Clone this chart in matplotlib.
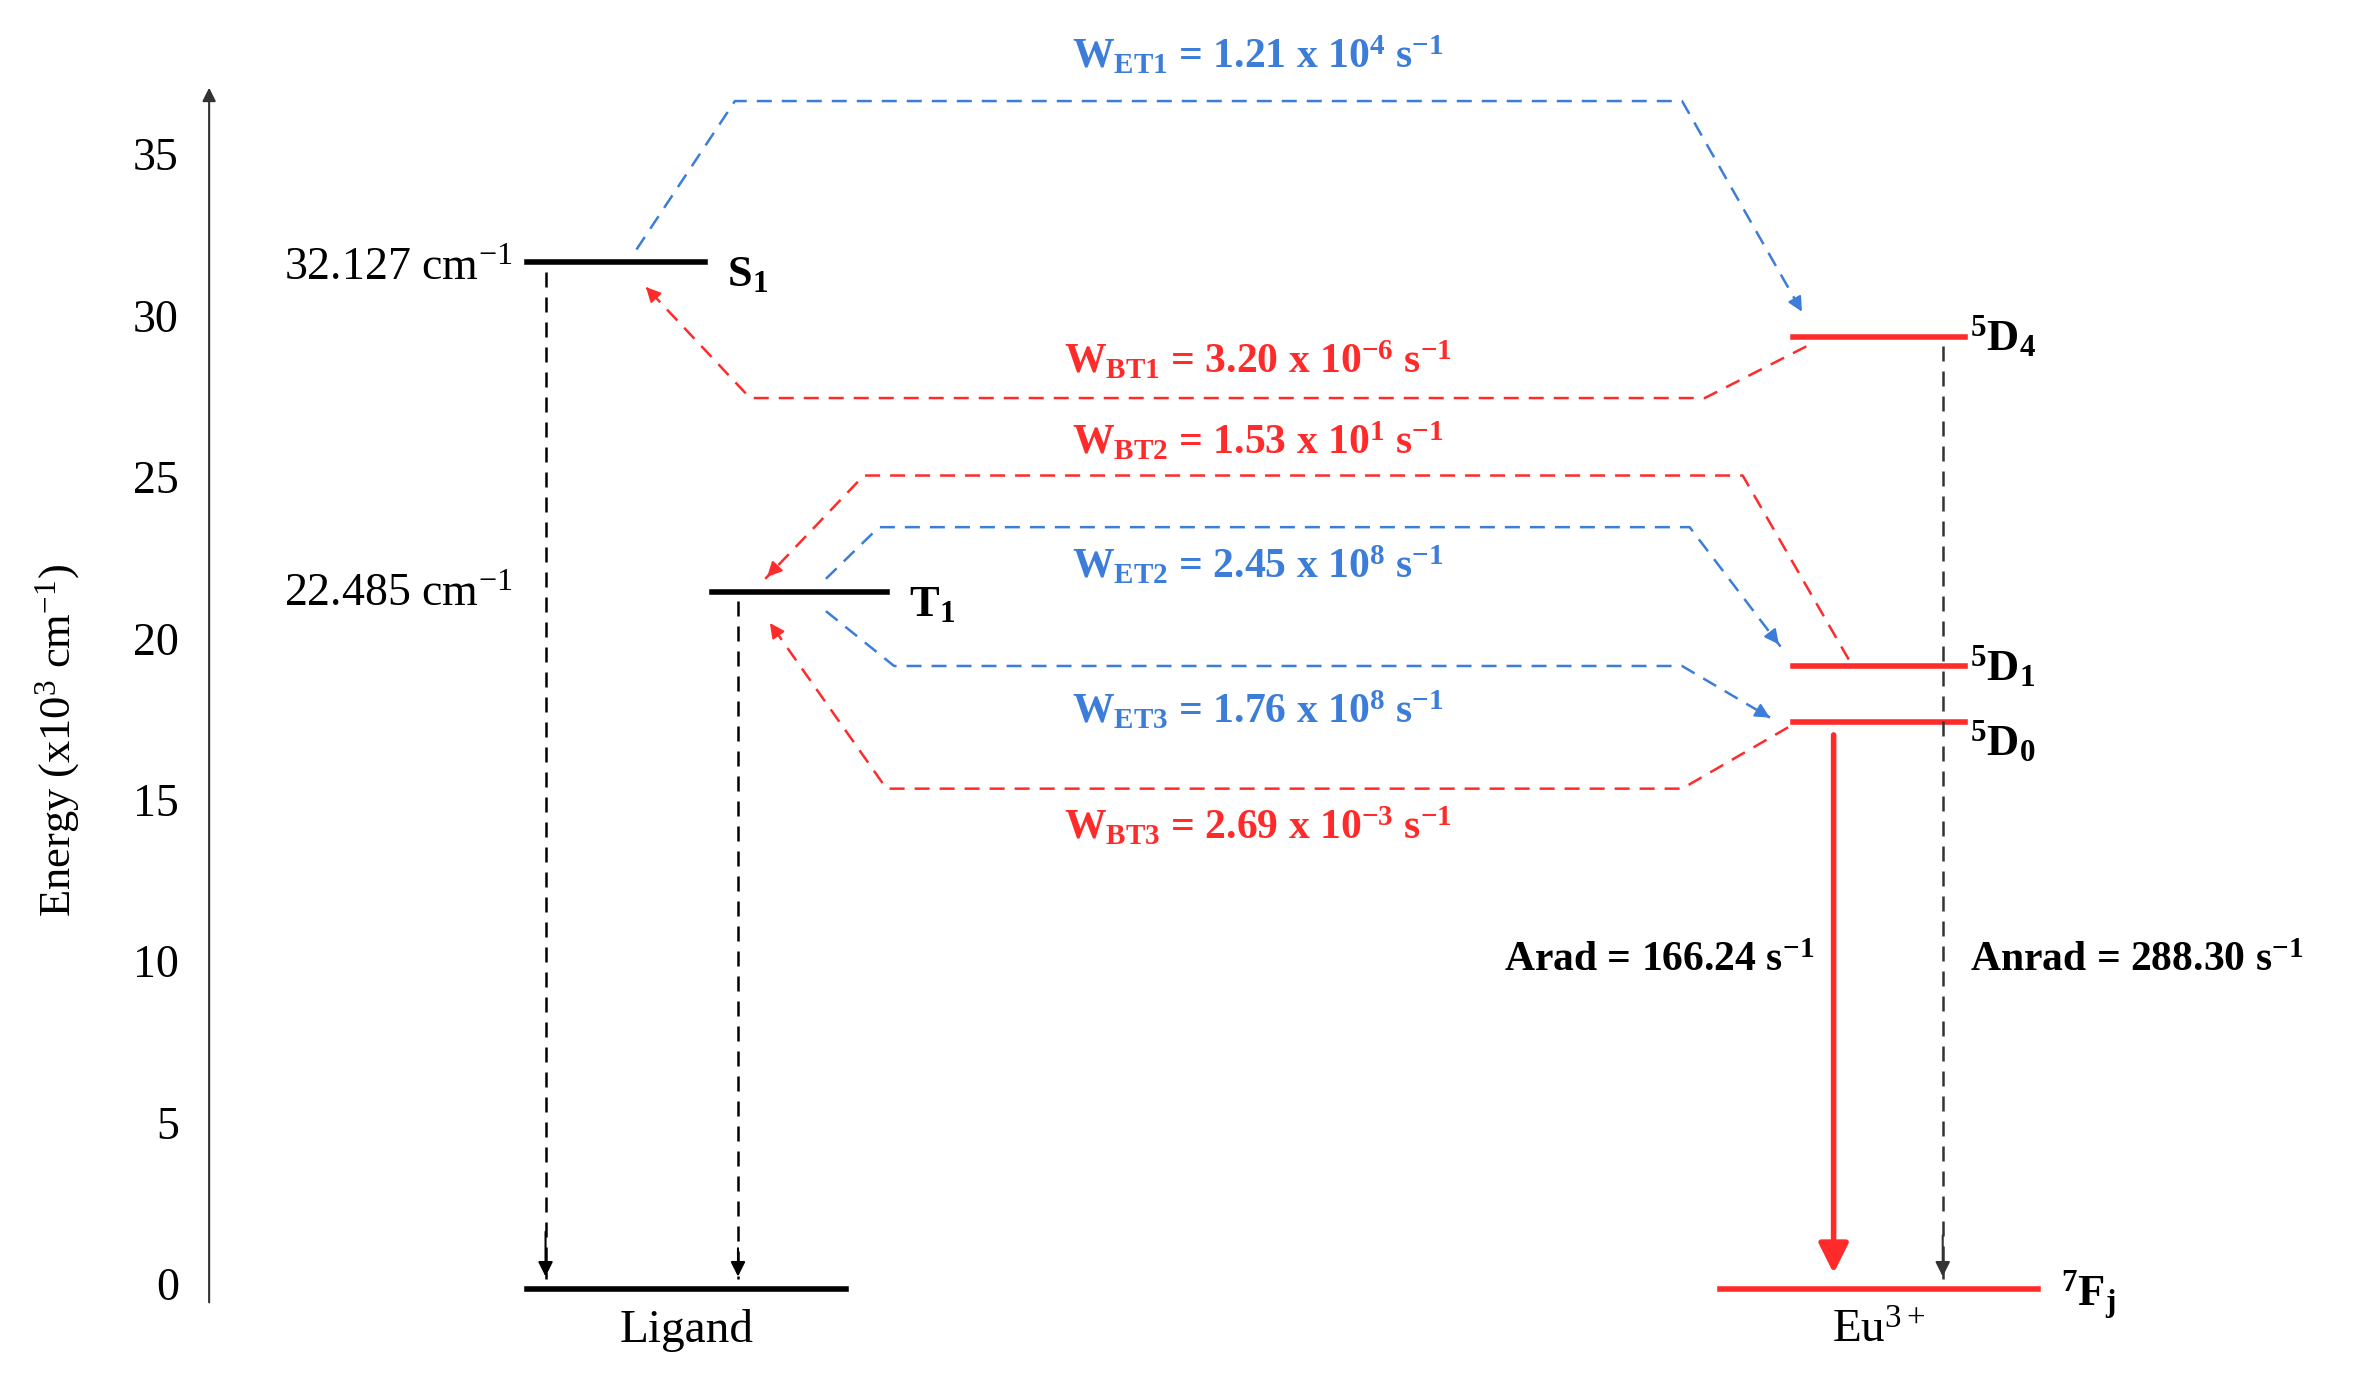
import matplotlib.pyplot as plt

plt.rcParams['font.family'] = ['Liberation Serif', 'DejaVu Serif']
plt.rcParams['mathtext.fontset'] = 'custom'
plt.rcParams['mathtext.rm'] = 'Liberation Serif'
plt.rcParams['mathtext.bf'] = 'Liberation Serif:bold'
plt.rcParams['mathtext.it'] = 'Liberation Serif:italic'

BLUE = '#3b7dd8'
RED = '#ff2a2a'

# energy levels (x10^3 cm^-1)
ligand_levels = {'S1': 31.8, 'T1': 21.6, 'G': 0.0}
eu_levels = {'5D4': 29.5, '5D1': 19.3, '5D0': 17.55, '7Fj': 0.0}
yticks = [0, 5, 10, 15, 20, 25, 30, 35]

# transfer paths: (x, energy) waypoints, horizontal x in layout units
et_paths = {
    'ET1': [(420, 32.2), (485, 36.8), (1110, 36.8), (1190, 30.2)],
    'ET2': [(545, 22.0), (580, 23.6), (1115, 23.6), (1175, 19.9)],
    'ET3': [(545, 21.0), (590, 19.3), (1110, 19.3), (1168, 17.7)],
}
bt_paths = {
    'BT1': [(1192, 29.2), (1125, 27.6), (495, 27.6), (425, 31.1)],
    'BT2': [(1220, 19.5), (1150, 25.2), (570, 25.2), (505, 22.0)],
    'BT3': [(1180, 17.4), (1110, 15.5), (585, 15.5), (507, 20.7)],
}
labels = [
    (r'W$_{\mathbf{ET1}}$ = 1.21 x 10$^{\mathbf{4}}$ s$^{\mathbf{-1}}$', 38.2, BLUE),
    (r'W$_{\mathbf{BT1}}$ = 3.20 x 10$^{\mathbf{-6}}$ s$^{\mathbf{-1}}$', 28.75, RED),
    (r'W$_{\mathbf{BT2}}$ = 1.53 x 10$^{\mathbf{1}}$ s$^{\mathbf{-1}}$', 26.25, RED),
    (r'W$_{\mathbf{ET2}}$ = 2.45 x 10$^{\mathbf{8}}$ s$^{\mathbf{-1}}$', 22.4, BLUE),
    (r'W$_{\mathbf{ET3}}$ = 1.76 x 10$^{\mathbf{8}}$ s$^{\mathbf{-1}}$', 17.9, BLUE),
    (r'W$_{\mathbf{BT3}}$ = 2.69 x 10$^{\mathbf{-3}}$ s$^{\mathbf{-1}}$', 14.3, RED),
]

fig = plt.figure(figsize=(23.64, 13.92), dpi=100)
ax = fig.add_axes([0, 0, 1, 1])
ax.set_xlim(0, 1560)
ax.set_ylim(-3.19, 39.93)
ax.axis('off')

# axis
ax.annotate('', xy=(138, 37.3), xytext=(138, -0.5),
            arrowprops=dict(arrowstyle='-|>', color='#333333', lw=1.5, mutation_scale=20))
for t in yticks:
    ax.text(118, t, str(t), ha='right', va='center', fontsize=33)
ax.text(38, 17, r'Energy (x10$^3$ cm$^{-1}$)', rotation=90, ha='center', va='center', fontsize=32)

# levels
ax.plot([348, 465], [ligand_levels['S1']] * 2, color='black', lw=4)
ax.plot([470, 585], [ligand_levels['T1']] * 2, color='black', lw=4)
ax.plot([348, 558], [ligand_levels['G']] * 2, color='black', lw=4)
for k in ['5D4', '5D1', '5D0']:
    ax.plot([1183, 1297], [eu_levels[k]] * 2, color=RED, lw=4)
ax.plot([1135, 1345], [eu_levels['7Fj']] * 2, color=RED, lw=4)

# level labels
lt = dict(fontsize=32, fontweight='bold', va='center')
ax.text(480, ligand_levels['S1'] - 0.4, r'S$_{\mathbf{1}}$', **lt)
ax.text(600, ligand_levels['T1'] - 0.4, r'T$_{\mathbf{1}}$', **lt)
ax.text(1300, eu_levels['5D4'], r'$^{\mathbf{5}}$D$_{\mathbf{4}}$', **lt)
ax.text(1300, eu_levels['5D1'], r'$^{\mathbf{5}}$D$_{\mathbf{1}}$', **lt)
ax.text(1300, eu_levels['5D0'] - 0.6, r'$^{\mathbf{5}}$D$_{\mathbf{0}}$', **lt)
ax.text(1360, -0.2, r'$^{\mathbf{7}}$F$_{\mathbf{j}}$', **lt)
ax.text(338, ligand_levels['S1'] - 0.2, r'32.127 cm$^{-1}$', ha='right', va='center', fontsize=33)
ax.text(338, ligand_levels['T1'] - 0.1, r'22.485 cm$^{-1}$', ha='right', va='center', fontsize=33)
ax.text(453, -1.3, 'Ligand', ha='center', va='center', fontsize=34)
ax.text(1240, -1.3, r'Eu$^{3+}$', ha='center', va='center', fontsize=34)


def dashed_arrow(pts, color):
    xs, ys = zip(*pts)
    ax.plot(xs, ys, '--', color=color, lw=1.8, dashes=(6, 4))
    (x0, y0), (x1, y1) = pts[-2], pts[-1]
    ax.annotate('', xy=(x1, y1), xytext=(x1 - (x1 - x0) * 0.05, y1 - (y1 - y0) * 0.05),
                arrowprops=dict(arrowstyle='-|>', color=color, lw=1.5, mutation_scale=22))


for p in et_paths.values():
    dashed_arrow(p, BLUE)
for p in bt_paths.values():
    dashed_arrow(p, RED)

# decay arrows
dashed_arrow([(360, ligand_levels['S1'] - 0.3), (360, 0.3)], 'black')
dashed_arrow([(487, ligand_levels['T1'] - 0.3), (487, 0.3)], 'black')
dashed_arrow([(1282, eu_levels['5D4'] - 0.3), (1282, 0.3)], '#333333')
ax.annotate('', xy=(1210, 0.4), xytext=(1210, eu_levels['5D0'] - 0.3),
            arrowprops=dict(arrowstyle='-|>', color=RED, lw=4, mutation_scale=45))

for txt, y, c in labels:
    ax.text(830, y, txt, ha='center', va='center', fontsize=30, fontweight='bold', color=c)
ax.text(1197, 10.15, r'Arad = 166.24 s$^{\mathbf{-1}}$', ha='right', va='center', fontsize=30, fontweight='bold')
ax.text(1300, 10.15, r'Anrad = 288.30 s$^{\mathbf{-1}}$', ha='left', va='center', fontsize=30, fontweight='bold')

fig.savefig('out.png', dpi=100)
